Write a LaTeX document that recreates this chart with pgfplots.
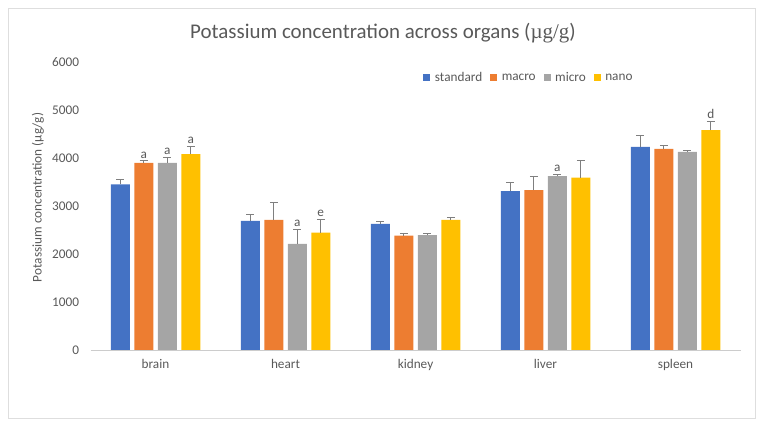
\documentclass[border=0pt]{standalone}
\usepackage{pgfplots}
\pgfplotsset{compat=1.18}
\usepackage{pgfplotstable}
\usepackage{fontspec}
\setmainfont{Carlito}
\newfontfamily\serifmath{Liberation Serif}
\definecolor{cstd}{HTML}{4472C4}
\definecolor{cmac}{HTML}{ED7D31}
\definecolor{cmic}{HTML}{A5A5A5}
\definecolor{cnan}{HTML}{FFC000}
\definecolor{txt}{HTML}{595959}
\definecolor{errc}{HTML}{7F7F7F}

\pgfplotstableread{
x y err lab
0 3450 100 {}
1 2690 140 {}
2 2625 60 {}
3 3310 170 {}
4 4230 245 {}
}\tstd
\pgfplotstableread{
x y err lab
0 3900 40 a
1 2710 360 {}
2 2385 35 {}
3 3330 290 {}
4 4190 60 {}
}\tmac
\pgfplotstableread{
x y err lab
0 3900 105 a
1 2210 310 a
2 2395 22 {}
3 3620 40 a
4 4125 40 {}
}\tmic
\pgfplotstableread{
x y err lab
0 4080 165 a
1 2445 270 e
2 2710 55 {}
3 3590 355 {}
4 4580 180 d
}\tnan

\begin{document}
\begin{tikzpicture}
\path (0bp,0bp) rectangle (763bp,426bp);
\draw[color=black!13, line width=0.8bp] (8bp,8bp) rectangle (755bp,418bp);
\node[text=txt, font=\fontsize{21}{24}\selectfont] at (383bp,393bp) {Potassium concentration across organs ({\serifmath µg/g})};
\node[text=txt, rotate=90, font=\fontsize{13.3}{15}\selectfont] at (38bp,228.5bp) {Potassium concentration (µg/g)};
\begin{axis}[
  at={(90.5bp,76bp)}, anchor=south west,
  scale only axis, width=650bp, height=288bp,
  xmin=-0.5, xmax=4.5, ymin=0, ymax=6000,
  ytick={0,1000,...,6000},
  xtick={0,1,2,3,4},
  xticklabels={brain,heart,kidney,liver,spleen},
  major tick length=0pt,
  axis x line*=bottom, axis y line*=left,
  x axis line style={draw=black!20, line width=0.8bp, -},
  y axis line style={draw=none},
  ybar=4.5bp, bar width=19bp,
  tick label style={text=txt, font=\fontsize{13.3}{15}\selectfont},
  /pgf/number format/assume math mode=true,
  /pgf/number format/set thousands separator={},
  yticklabel style={xshift=-8bp},
  xticklabel style={yshift=-6bp},
  legend columns=-1,
  legend style={draw=none, at={(0.6746,0.946)}, anchor=center, font=\fontsize{13.3}{15}\selectfont, text=txt,
    /tikz/every odd column/.append style={column sep=2.5bp},
    /tikz/every even column/.append style={column sep=6bp}},
  legend image code/.code={\fill[#1] (0bp,-3.5bp) rectangle (7bp,3.5bp);},
  error bars/y dir=plus, error bars/y explicit,
  error bars/error bar style={errc, line width=1bp},
  error bars/error mark options={errc, rotate=90, mark size=4bp, line width=1bp},
  point meta=explicit symbolic,
  nodes near coords,
  visualization depends on={\thisrow{err} \as \errval},
  nodes near coords style={text=txt, anchor=south, inner sep=1.5bp, font=\fontsize{13.3}{15}\selectfont, yshift={\errval*0.048bp+1bp}},
]
\addplot[fill=cstd, draw=none] table[x=x, y=y, y error=err, meta=lab] {\tstd};
\addplot[fill=cmac, draw=none] table[x=x, y=y, y error=err, meta=lab] {\tmac};
\addplot[fill=cmic, draw=none] table[x=x, y=y, y error=err, meta=lab] {\tmic};
\addplot[fill=cnan, draw=none] table[x=x, y=y, y error=err, meta=lab] {\tnan};
\legend{standard,macro,micro,nano}
\end{axis}
\end{tikzpicture}
\end{document}
